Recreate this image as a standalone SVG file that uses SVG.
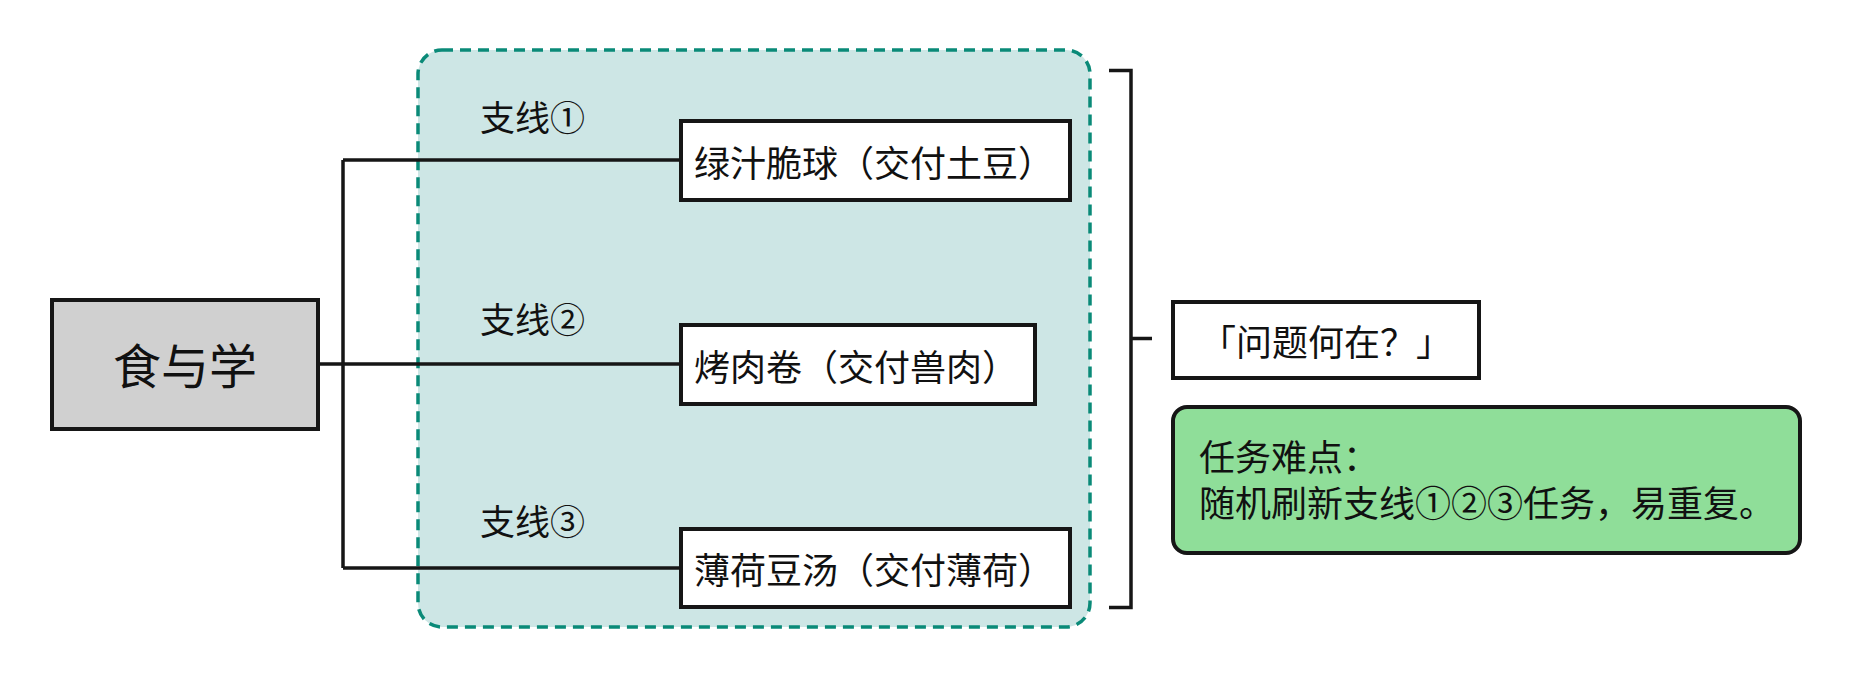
<svg xmlns="http://www.w3.org/2000/svg" width="1850" height="678" viewBox="0 0 1850 678">
<style>
text{font-family:"Noto Sans CJK SC","Liberation Sans",sans-serif;fill:#111;dominant-baseline:central}
.box{fill:#fff;stroke:#161616;stroke-width:4}
.line{fill:none;stroke:#161616;stroke-width:3.5}
.t36{font-size:36px}
.lbl{font-size:35px}
</style>
<rect width="1850" height="678" fill="#fff"/>
<g id="container">
<rect x="418" y="50" width="672" height="577" rx="24" ry="24" fill="#cde6e5" stroke="#0a8a78" stroke-width="3.5" stroke-dasharray="11 7"/>
</g>
<g id="connectors">
<path class="line" d="M318 364 H343 M343 160 V568 M343 160 H681 M343 364 H681 M343 568 H681"/>
<path class="line" d="M1109 70.5 H1131 V607.5 H1109 M1131 338.5 H1152"/>
</g>
<g id="root">
<rect x="52" y="300" width="266" height="129" fill="#d0d0d0" stroke="#161616" stroke-width="4"/>
<text x="185" y="363" font-size="48" text-anchor="middle">食与学</text>
</g>
<g id="label1"><text class="lbl" x="480" y="115">支线①</text></g>
<g id="label2"><text class="lbl" x="480" y="317">支线②</text></g>
<g id="label3"><text class="lbl" x="480" y="519">支线③</text></g>
<g id="task1">
<rect class="box" x="681" y="121" width="389" height="79"/>
<text class="t36" x="694" y="161">绿汁脆球（交付土豆）</text>
</g>
<g id="task2">
<rect class="box" x="681" y="325" width="354" height="79"/>
<text class="t36" x="694" y="365">烤肉卷（交付兽肉）</text>
</g>
<g id="task3">
<rect class="box" x="681" y="529" width="389" height="78"/>
<text class="t36" x="694" y="568">薄荷豆汤（交付薄荷）</text>
</g>
<g id="question">
<rect class="box" x="1173" y="302" width="306" height="76"/>
<text class="t36" x="1326" y="340" text-anchor="middle">「问题何在？」</text>
</g>
<g id="difficulty">
<rect x="1173" y="407" width="627" height="146" rx="14" ry="14" fill="#8fde99" stroke="#161616" stroke-width="4"/>
<text class="t36" x="1199" y="455">任务难点：</text>
<text class="t36" x="1199" y="501">随机刷新支线①②③任务，易重复。</text>
</g>
</svg>
